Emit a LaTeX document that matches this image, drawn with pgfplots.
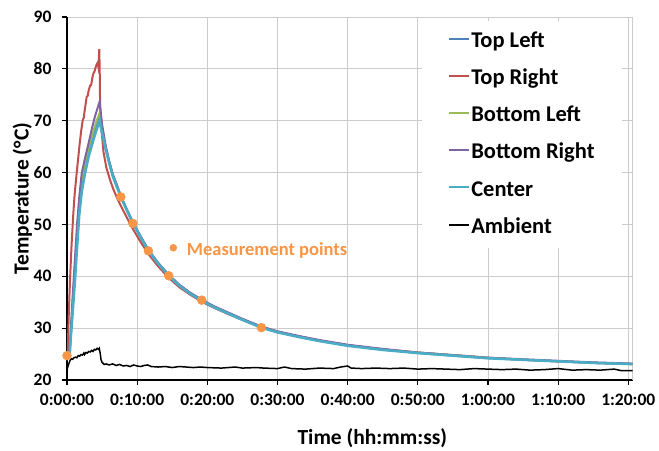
\documentclass[border=0pt]{standalone}
\usepackage{pgfplots}
\pgfplotsset{compat=1.18}
\usepackage{fontspec}
\setmainfont{Carlito}
\definecolor{tlblue}{HTML}{4F81BD}
\definecolor{trred}{HTML}{C0504D}
\definecolor{blgreen}{HTML}{9BBB59}
\definecolor{brpurple}{HTML}{8064A2}
\definecolor{cteal}{HTML}{4BACC6}
\definecolor{morange}{HTML}{F79646}
\definecolor{gridgray}{HTML}{CCCCCC}
\begin{document}
\begin{tikzpicture}
\begin{axis}[
  scale only axis, width=565.5pt, height=363pt,
  xmin=0, xmax=80.6, ymin=20, ymax=90,
  clip=false,
  xtick={0,10,...,80},
  xticklabels={0:00:00,0:10:00,0:20:00,0:30:00,0:40:00,0:50:00,1:00:00,1:10:00,1:20:00},
  ytick={20,30,...,90},
  /pgf/number format/assume math mode=true,
  axis x line*=bottom, axis y line*=left,
  axis line style={line width=1.6pt, black, -},
  tick align=outside, major tick length=5pt,
  tick style={black, line width=1.2pt},
  grid=major, major grid style={gridgray, line width=0.9pt},
  tick label style={font=\fontsize{17.5}{18}\selectfont\bfseries},
  xticklabel style={yshift=-5pt},
  yticklabel style={xshift=-7pt},
  xlabel={Time (hh:mm:ss)},
  ylabel={Temperature (°C)},
  xlabel style={at={(axis description cs:0.54,0)}, anchor=center, yshift=-58pt, font=\fontsize{21.5}{22}\selectfont\bfseries},
  ylabel style={at={(axis description cs:-0.079,0.5)}, anchor=center, rotate=0, font=\fontsize{21.5}{22}\selectfont\bfseries},
  legend image code/.code={\draw[#1, line width=2pt] (0pt,0.32em) -- (20pt,0.32em);},
  legend cell align=left,
  legend style={at={(rel axis cs:0.981,0.989)}, anchor=north east, draw=none, fill=white,
    font=\fontsize{22.5}{24}\selectfont\bfseries,
    nodes={text height=23.2pt, text depth=12.0pt, inner sep=1pt},
    column sep=0pt, inner xsep=26pt, inner ysep=2pt},
]
\draw[gridgray, line width=0.9pt] (rel axis cs:1,0) -- (rel axis cs:1,1);
% Top Left
\addplot[tlblue, line width=2pt] coordinates {
(0,24.7) (0.35,24.8) (0.45,26.5) (0.8,34) (1.14,40.5) (1.45,47.3) (1.75,52.8) (2.1,57.0) (2.57,60.6) (3.1,63.9) (3.76,67.0) (4.2,69.0) (4.65,70.6) (5.0,68.0) (5.5,64.9) (6.0,62.1) (6.5,59.6) (7.0,57.9) (7.67,55.5) (8.5,52.9) (9.4,50.4) (10.5,47.6) (11.6,45.1) (13,42.5) (14.5,40.2) (16,38.3) (17.5,36.8) (19.2,35.4) (21,34.1) (23,32.9) (25,31.7) (27.7,30.3) (30,29.3) (33,28.4) (36,27.6) (40,26.7) (45,25.9) (50,25.2) (55,24.7) (60,24.2) (65,23.9) (70,23.6) (75,23.3) (80,23.1) (80.6,23.05)
};
\addlegendentry{Top Left}
% Top Right
\addplot[trred, line width=2pt] coordinates {
(0,24.7) (0.1,25.2) (0.25,32.5) (0.43,39.3) (0.65,46) (0.9,52.1) (1.1,56.0) (1.38,59.9) (1.6,62.8) (1.8,65.5) (2.0,67.8) (2.24,70.1) (2.4,70.6) (2.5,71.8) (2.7,73.6) (2.8,74.6) (2.95,74.8) (3.1,75.9) (3.3,76.8) (3.45,76.9) (3.6,78.2) (3.76,79.1) (3.95,79.6) (4.1,80.4) (4.25,80.9) (4.38,81.2) (4.45,80.6) (4.52,81.6) (4.6,83.8) (4.66,80.0) (4.72,72.7) (4.9,68.5) (5.2,64.0) (5.6,61.0) (6.13,58.6) (6.6,56.8) (7.2,54.9) (7.67,53.6) (8.5,51.4) (9.4,49.1) (10.5,46.6) (11.6,44.3) (13,41.9) (14.5,39.7) (16,37.9) (17.5,36.5) (19.2,35.1) (21,33.9) (23,32.7) (25,31.6) (27.7,30.2) (30,29.2) (33,28.4) (36,27.6) (40,26.7) (45,25.9) (50,25.3) (55,24.8) (60,24.3) (65,23.9) (70,23.6) (75,23.3) (80,23.1) (80.6,23.1)
};
\addlegendentry{Top Right}
% Bottom Left
\addplot[blgreen, line width=2pt] coordinates {
(0,24.7) (0.35,24.8) (0.45,27) (0.8,35) (1.14,42) (1.45,48.8) (1.75,54.0) (2.1,58.0) (2.57,61.5) (3.1,64.8) (3.76,68.0) (4.2,69.9) (4.65,71.5) (5.0,68.4) (5.5,65.0) (6.0,62.2) (6.5,59.7) (7.0,57.9) (7.67,55.4) (8.5,52.9) (9.4,50.3) (10.5,47.6) (11.6,45.0) (13,42.5) (14.5,40.2) (16,38.3) (17.5,36.8) (19.2,35.4) (21,34.1) (23,32.9) (25,31.7) (27.7,30.2) (30,29.3) (33,28.4) (36,27.6) (40,26.7) (45,25.9) (50,25.3) (55,24.8) (60,24.3) (65,23.9) (70,23.6) (75,23.3) (80,23.1) (80.6,23.1)
};
\addlegendentry{Bottom Left}
% Bottom Right
\addplot[brpurple, line width=2pt] coordinates {
(0,24.7) (0.35,24.8) (0.45,27.5) (0.8,36) (1.14,43.5) (1.45,50.3) (1.75,55.3) (2.1,59.9) (2.57,62.8) (3.1,65.8) (3.5,68.2) (4.0,70.9) (4.35,72.4) (4.65,73.7) (5.0,69.3) (5.5,65.3) (6.0,62.3) (6.5,59.8) (7.0,58.0) (7.67,55.5) (8.5,53.0) (9.4,50.4) (10.5,47.7) (11.6,45.1) (13,42.6) (14.5,40.3) (16,38.4) (17.5,36.9) (19.2,35.5) (21,34.2) (23,33.0) (25,31.8) (27.7,30.3) (30,29.4) (33,28.5) (36,27.7) (40,26.8) (45,26.0) (50,25.3) (55,24.8) (60,24.3) (65,24.0) (70,23.7) (75,23.4) (80,23.2) (80.6,23.15)
};
\addlegendentry{Bottom Right}
% Center
\addplot[cteal, line width=2.6pt] coordinates {
(0,24.7) (0.38,24.8) (0.5,27.5) (0.8,33) (1.14,39.3) (1.45,46) (1.75,52.0) (2.1,56.3) (2.57,59.9) (3.1,63.2) (3.76,66.3) (4.2,68.2) (4.65,70.0) (5.0,67.6) (5.5,64.6) (6.0,61.9) (6.5,59.4) (7.0,57.6) (7.67,55.3) (8.5,52.8) (9.4,50.2) (10.5,47.5) (11.6,44.9) (13,42.4) (14.5,40.1) (16,38.2) (17.5,36.7) (19.2,35.3) (21,34.0) (23,32.8) (25,31.6) (27.7,30.1) (30,29.2) (33,28.3) (36,27.5) (40,26.6) (45,25.8) (50,25.2) (55,24.7) (60,24.2) (65,23.9) (70,23.6) (75,23.3) (80,23.1) (80.6,23.05)
};
\addlegendentry{Center}
% Ambient
\addplot[black, line width=1.5pt] coordinates {
(0,21.9) (0.1,22.5) (0.3,23.3) (0.45,23.8) (0.6,24.1) (0.8,24.0) (1.0,24.3) (1.2,24.4) (1.4,24.3) (1.6,24.7) (1.8,24.6) (2.0,24.9) (2.2,24.8) (2.4,25.2) (2.5,24.9) (2.7,25.3) (2.9,25.2) (3.1,25.5) (3.3,25.4) (3.5,25.7) (3.7,25.5) (3.9,25.9) (4.1,25.8) (4.3,26.1) (4.5,25.9) (4.6,26.1) (4.75,25.0) (4.85,23.9) (5.0,23.4) (5.3,23.0) (5.6,23.1) (6.0,22.9) (6.5,23.1) (7.0,22.8) (7.5,23.0) (8,22.7) (8.5,22.8) (9,22.6) (9.5,22.9) (10,22.7) (10.5,22.6) (11,22.8) (11.5,22.9) (12,22.6) (13,22.5) (14,22.6) (15,22.4) (16,22.6) (17,22.5) (18,22.4) (19,22.5) (20,22.4) (22,22.3) (24,22.5) (25,22.3) (27,22.4) (28,22.3) (30,22.2) (31,22.5) (32,22.2) (34,22.1) (36,22.3) (38,22.2) (39,22.5) (40,22.7) (40.5,22.3) (42,22.2) (44,22.3) (46,22.2) (48,22.3) (50,22.1) (52,22.2) (54,22.1) (56,22.0) (58,22.2) (60,22.1) (62,22.0) (64,22.1) (66,21.9) (68,22.0) (70,22.2) (72,21.9) (74,22.0) (76,21.9) (78,22.1) (79,21.8) (80.6,21.8)
};
\addlegendentry{Ambient}
% measurement points
\addplot[only marks, mark=*, mark size=4.5pt, color=morange, forget plot] coordinates {
(0,24.7) (7.67,55.3) (9.38,50.2) (11.6,44.9) (14.5,40.1) (19.2,35.4) (27.7,30.1)
};
\addplot[only marks, mark=*, mark size=3.5pt, color=morange, forget plot] coordinates {(15.15,45.5)};
\node[anchor=base west, inner sep=0pt, text=morange, font=\fontsize{18.5}{19}\selectfont\bfseries] at (axis cs:17.06,44.1) {Measurement points};
\end{axis}
\useasboundingbox (-67pt,-70pt) rectangle (592pt,380pt);
\end{tikzpicture}
\end{document}
